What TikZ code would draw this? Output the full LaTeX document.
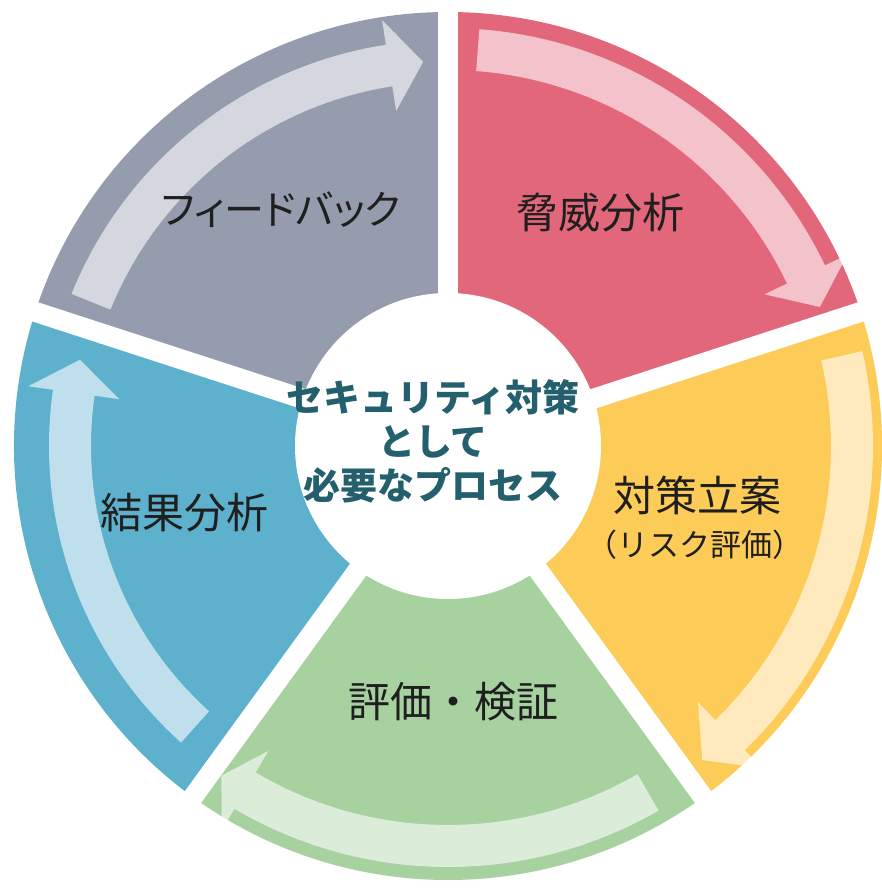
\documentclass[tikz,border=0pt]{standalone}
\usepackage{fontspec}
\usepackage{tikz}
\newfontfamily\jpfont{Noto Sans CJK JP}
\newfontfamily\jppalt{Noto Sans CJK JP}[RawFeature=+palt]
\definecolor{segred}{HTML}{E3677B}
\definecolor{seggray}{HTML}{959CAD}
\definecolor{segyellow}{HTML}{FDCB58}
\definecolor{seggreen}{HTML}{A7D19F}
\definecolor{segblue}{HTML}{5DB1CD}
\definecolor{titleteal}{HTML}{245F6D}
\tikzstyle{phase} = [text=black!88, inner sep=0pt, font=\jpfont\fontsize{42}{50}\selectfont]
\tikzstyle{arrowfill} = [fill=white, fill opacity=0.6]
\tikzstyle{gapline} = [white, line width=20pt]
\tikzstyle{title} = [text=titleteal, align=center, inner sep=0pt, font=\jpfont\bfseries\fontsize{37}{44}\selectfont]

% #1 from, #2 to, #3 outer radius, #4 inner radius
\newcommand{\segment}[5]{%
  \fill[#5] (#1:#3) arc[start angle=#1, end angle=#2, radius=#3] -- (#2:#4) arc[start angle=#2, end angle=#1, radius=#4] -- cycle;
}
% #1 start, #2 head base, #3 tip, #4 mid radius
\newcommand{\cyclearrow}[4]{%
  \pgfmathsetmacro{\ra}{#4+21}
  \pgfmathsetmacro{\rb}{#4-21}
  \pgfmathsetmacro{\rc}{#4+46}
  \pgfmathsetmacro{\rd}{#4-46}
  \fill[arrowfill] (#1:\ra) arc[start angle=#1, end angle=#2, radius=\ra] -- (#2:\rc) -- (#3:#4) -- (#2:\rd) -- (#2:\rb) arc[start angle=#2, end angle=#1, radius=\rb] -- cycle;
}

\begin{document}
\begin{tikzpicture}[x=1pt,y=1pt]
\useasboundingbox (-448,-443) rectangle (433,446);

\segment{90}{18}{434}{140}{segred}
\segment{18}{-54}{434}{140}{segyellow}
\segment{-54}{-126}{434}{140}{seggreen}
\segment{-126}{-198}{434}{140}{segblue}
\segment{162}{90}{434}{140}{seggray}

\cyclearrow{85.7}{25.6}{20.5}{397}
\cyclearrow{12.9}{-45.7}{-51}{404}
\cyclearrow{-60}{-120.5}{-124.5}{400}
\cyclearrow{-132}{-188.1}{-193.2}{378}
\cyclearrow{158}{98.8}{93.7}{385}

\foreach \a in {90,18,-54,-126,162}
  \draw[gapline] (0,0) -- (\a:470);
\fill[white] (0,0) circle (153);

\node (threat) [phase] at (153,233) {脅威分析};
\node (plan) [phase] at (249,-49) {対策立案};
\node (plansub) [phase, font=\jpfont\fontsize{31}{36}\selectfont] at (247,-99) {（リスク評価）};
\node (verify) [phase] at (6,-256) {評価・検証};
\node (result) [phase] at (-263,-67) {結果分析};
\node (feedback) [phase, font=\jppalt\fontsize{40}{48}\selectfont] at (-167,236) {フィードバック};

\node (process) [title] at (-15,5) {セキュリティ対策\\として\\必要なプロセス};

\end{tikzpicture}
\end{document}
